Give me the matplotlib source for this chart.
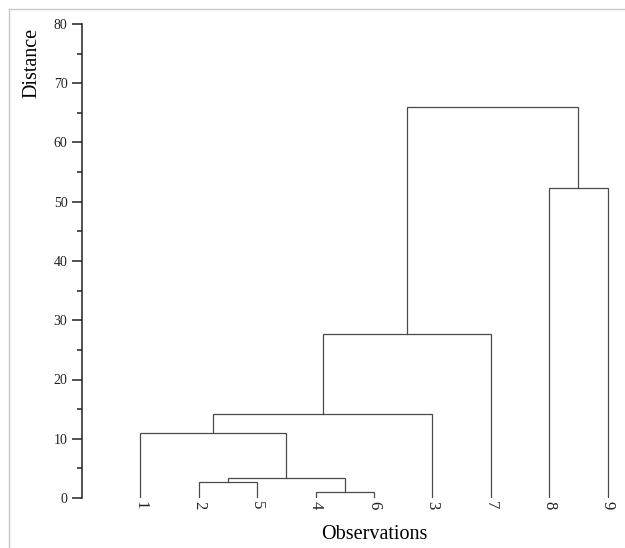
import matplotlib
matplotlib.use("Agg")
import matplotlib.pyplot as plt
from matplotlib.lines import Line2D
from matplotlib.ticker import MultipleLocator
import numpy as np

# leaves in display order, then merges (scipy-like ids: leaves 0..8, new clusters 9..)
leaf_labels = ["1", "2", "5", "4", "6", "3", "7", "8", "9"]
left_child = [1, 3, 9, 0, 12, 13, 7, 14]
right_child = [2, 4, 10, 11, 5, 6, 8, 15]
heights = [2.65, 1.07, 3.3, 11.0, 14.2, 27.7, 52.4, 66.0]

plt.rcParams['font.family'] = ['Liberation Serif', 'DejaVu Serif']

fig = plt.figure(figsize=(6.25, 5.48), dpi=100)
ax = fig.add_axes([82 / 625, 50 / 548, 584 / 625, 474 / 548])

# light frame around the figure (only top and left visible)
fig.add_artist(Line2D([9 / 625, 9 / 625], [0, 1 - 9 / 548], color='#c8c8c8', lw=1.0,
                      transform=fig.transFigure))
fig.add_artist(Line2D([9 / 625, 1], [1 - 9 / 548, 1 - 9 / 548], color='#c8c8c8', lw=1.0,
                      transform=fig.transFigure))

n = len(leaf_labels)
xpos = {i: i + 1.0 for i in range(n)}
ypos = {i: 0.0 for i in range(n)}
for k, (a, b, h) in enumerate(zip(left_child, right_child, heights)):
    xa, xb = xpos[a], xpos[b]
    ya, yb = ypos[a], ypos[b]
    ax.plot([xa, xa, xb, xb], [ya, h, h, yb], color='#4a4a4a', lw=0.9,
            solid_joinstyle='miter')
    xpos[n + k] = (xa + xb) / 2
    ypos[n + k] = h

ax.set_xlim(0, 10)
ax.set_ylim(0, 80)
for s in ['top', 'right', 'bottom']:
    ax.spines[s].set_visible(False)
ax.spines['left'].set_linewidth(1.1)
ax.spines['left'].set_color('#222222')

ax.set_xticks(np.arange(1, n + 1))
ax.set_xticklabels(leaf_labels, rotation=270, fontsize=12, color='#222222')
ax.tick_params(axis='x', length=0, pad=2)

ax.yaxis.set_major_locator(MultipleLocator(10))
ax.yaxis.set_minor_locator(MultipleLocator(5))
ax.tick_params(axis='y', which='major', length=7, width=1.1, pad=3.5,
               labelsize=10, colors='#222222')
ax.tick_params(axis='y', which='minor', length=3.5, width=1.1, colors='#222222')

ax.set_xlabel("Observations", fontsize=14.5)
ax.xaxis.set_label_coords(0.5, -0.058)
ax.set_ylabel("Distance", fontsize=14.5, loc='top')
ax.yaxis.set_label_coords(-0.069, 0.992)

fig.savefig("out.png", dpi=100)
